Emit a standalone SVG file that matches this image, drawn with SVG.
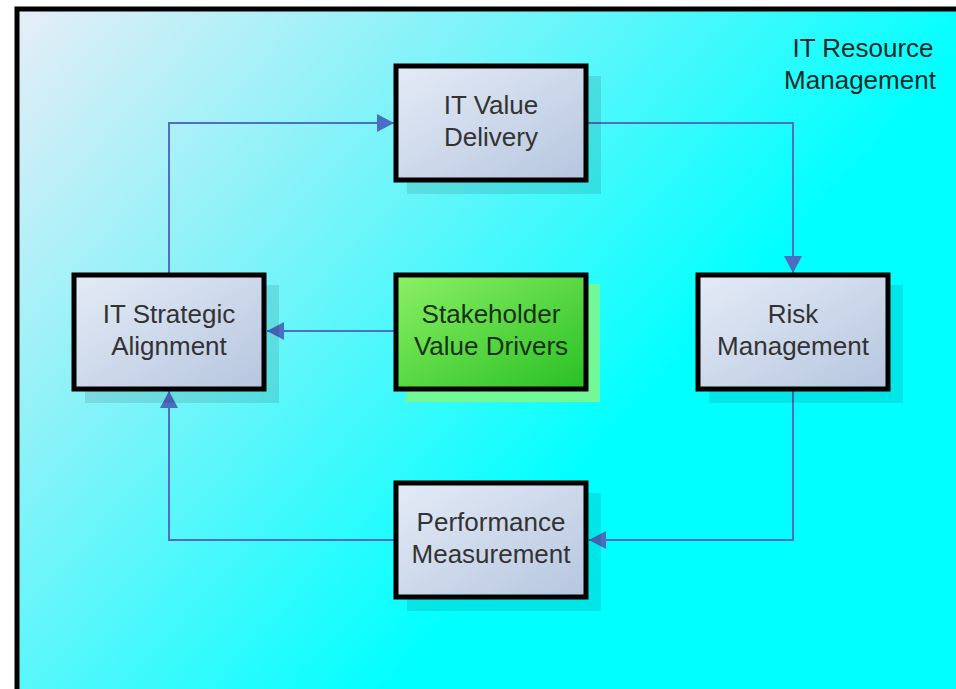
<svg xmlns="http://www.w3.org/2000/svg" width="956" height="689" viewBox="0 0 956 689">
<defs>
<linearGradient id="bg" gradientUnits="userSpaceOnUse" x1="20" y1="10" x2="560" y2="500">
<stop offset="0" stop-color="#e6edf7"/>
<stop offset="0.4" stop-color="#8ef2f8"/>
<stop offset="1" stop-color="#00ffff"/>
</linearGradient>
<linearGradient id="nodeFill" x1="0" y1="0" x2="1" y2="1">
<stop offset="0" stop-color="#e4ebf6"/>
<stop offset="1" stop-color="#b6c6df"/>
</linearGradient>
<linearGradient id="greenFill" x1="0" y1="0" x2="1" y2="1">
<stop offset="0" stop-color="#8cf064"/>
<stop offset="1" stop-color="#28c024"/>
</linearGradient>
<marker id="arr" markerUnits="userSpaceOnUse" markerWidth="18" markerHeight="18" viewBox="0 0 18 18" refX="17" refY="9" orient="auto">
<path d="M0,0 L17,9 L0,18 Z" fill="#4a6ec4"/>
</marker>
<style>
.node rect.box{stroke:#000;stroke-width:5}
.shadow{fill:#000;opacity:0.1}
.lbl{font-family:"Liberation Sans",Arial,sans-serif;font-size:26px;fill:#333;text-anchor:middle}
.conn{fill:none;stroke:#4f70c2;stroke-width:2}
</style>
</defs>
<rect x="17" y="9" width="960" height="700" fill="url(#bg)" stroke="#000" stroke-width="5"/>
<text class="lbl" x="863" y="57" style="fill:#1a2a2a">IT Resource</text>
<text class="lbl" x="860" y="89" style="fill:#1a2a2a">Management</text>
<g id="connectors">
<path class="conn" d="M169,273 V123 H394" marker-end="url(#arr)"/>
<path class="conn" d="M588,123 H793 V273" marker-end="url(#arr)"/>
<path class="conn" d="M793,390 V540 H589" marker-end="url(#arr)"/>
<path class="conn" d="M394,540 H169 V391" marker-end="url(#arr)"/>
<path class="conn" d="M394,331 H267" marker-end="url(#arr)"/>
</g>
<g id="node-value-delivery" class="node">
<rect class="shadow" x="407" y="76" width="194" height="118"/>
<rect class="box" x="396" y="66" width="190" height="114" fill="url(#nodeFill)"/>
<text class="lbl" x="491" y="114">IT Value</text>
<text class="lbl" x="491" y="146">Delivery</text>
</g>
<g id="node-strategic" class="node">
<rect class="shadow" x="85" y="285" width="194" height="118"/>
<rect class="box" x="74" y="275" width="190" height="114" fill="url(#nodeFill)"/>
<text class="lbl" x="169" y="323">IT Strategic</text>
<text class="lbl" x="169" y="355">Alignment</text>
</g>
<g id="node-stakeholder" class="node">
<rect x="406" y="284" width="194" height="118" fill="#72f896"/>
<rect class="box" x="396" y="275" width="190" height="114" fill="url(#greenFill)"/>
<text class="lbl" x="491" y="323" style="fill:#1a3018">Stakeholder</text>
<text class="lbl" x="491" y="355" style="fill:#1a3018">Value Drivers</text>
</g>
<g id="node-risk" class="node">
<rect class="shadow" x="709" y="285" width="194" height="118"/>
<rect class="box" x="698" y="275" width="190" height="114" fill="url(#nodeFill)"/>
<text class="lbl" x="793" y="323">Risk</text>
<text class="lbl" x="793" y="355">Management</text>
</g>
<g id="node-performance" class="node">
<rect class="shadow" x="407" y="493" width="194" height="118"/>
<rect class="box" x="396" y="483" width="190" height="114" fill="url(#nodeFill)"/>
<text class="lbl" x="491" y="531">Performance</text>
<text class="lbl" x="491" y="563">Measurement</text>
</g>
</svg>
